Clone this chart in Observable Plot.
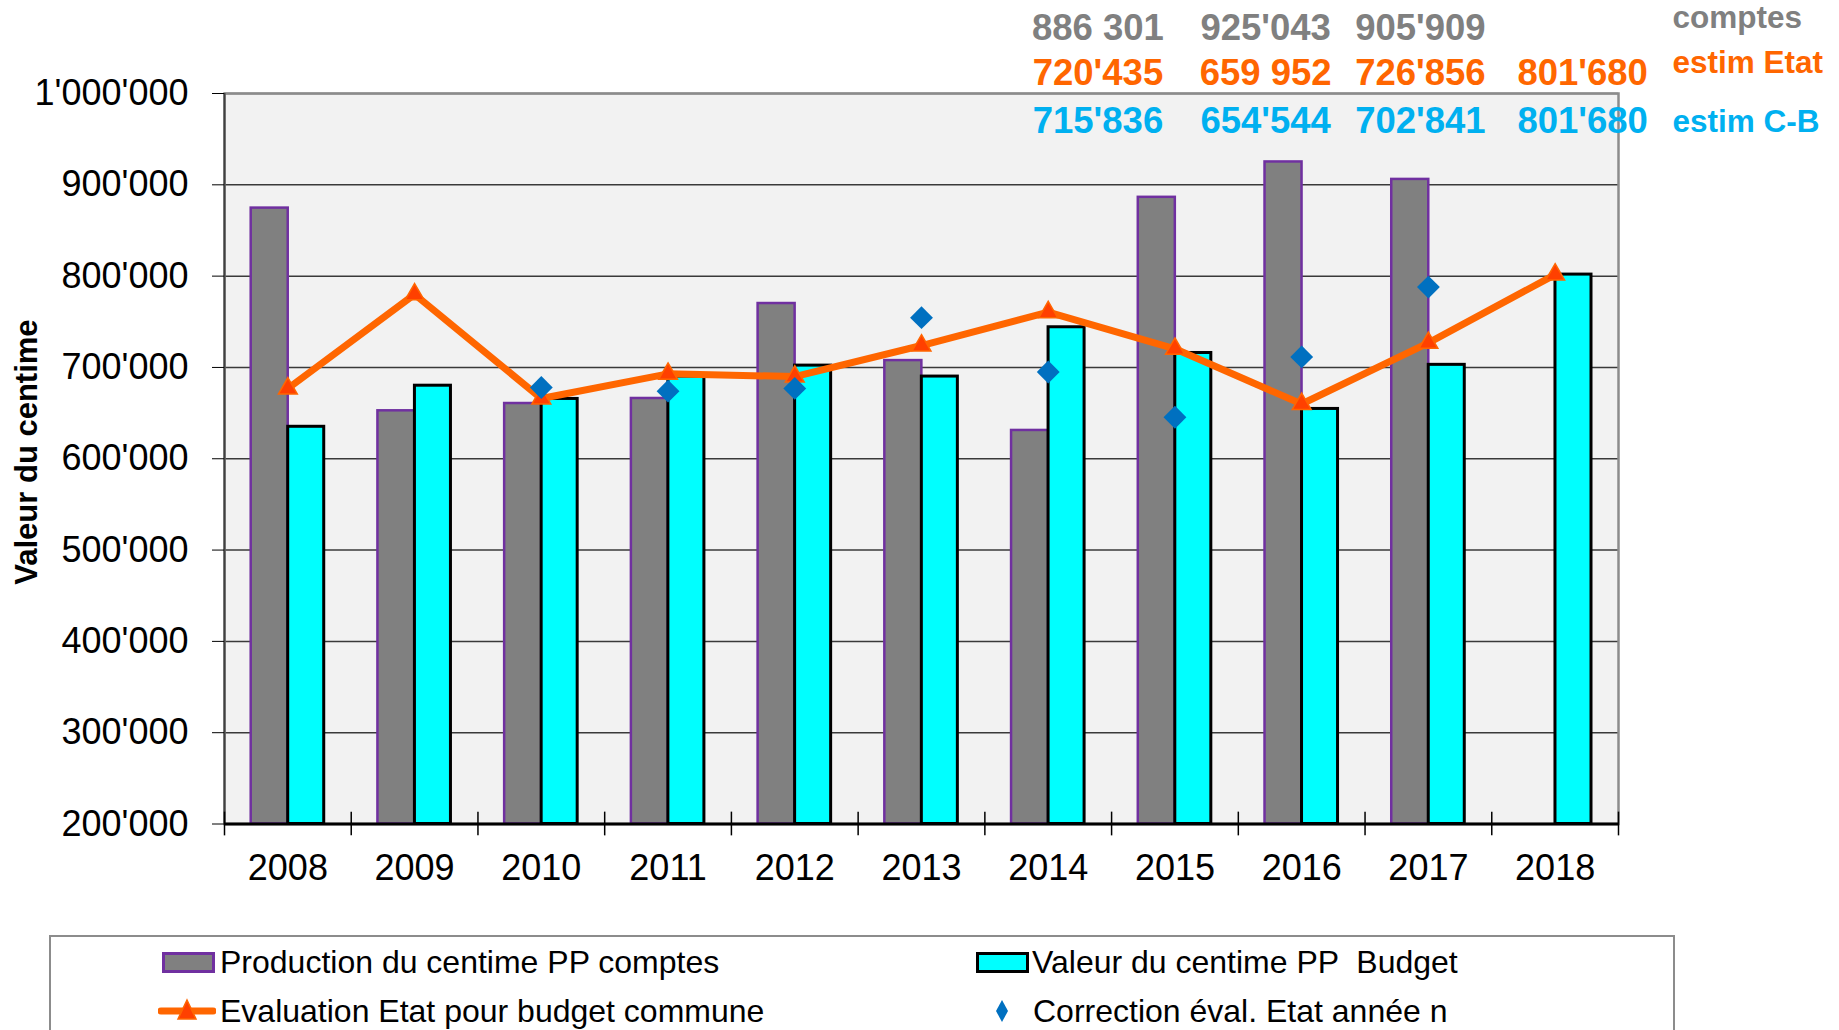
<!DOCTYPE html>
<html>
<head>
<meta charset="utf-8">
<script src="https://cdn.jsdelivr.net/npm/d3@7"></script>
<script src="https://cdn.jsdelivr.net/npm/@observablehq/plot@0.6"></script>
<style>
  html, body { margin: 0; padding: 0; background: #fff; }
  #wrap { position: relative; width: 1839px; height: 1030px; overflow: hidden; font-family: "Liberation Sans", Arial, sans-serif; }
  #chart { position: absolute; left: 0; top: 0; }
  #legend { position: absolute; left: 49px; top: 935px; width: 1626px; height: 120px; box-sizing: border-box; border: 2px solid #8c8c8c; background: #fff; }
  .lg { position: absolute; font-size: 32px; line-height: 32px; color: #000; white-space: pre; }
  .sw { position: absolute; }
</style>
</head>
<body>
<div id="wrap">
  <div id="chart"></div>
  <div id="legend"></div>
</div>
<script>
// ---------- data ----------
const years = ["2008", "2009", "2010", "2011", "2012", "2013", "2014", "2015", "2016", "2017", "2018"];
const comptes = [874500, 652500, 660500, 666000, 770000, 707500, 631000, 886301, 925043, 905909, null];
const budget = [635000, 680000, 665500, 690000, 702000, 690000, 744000, 715836, 654544, 702841, 801680];
const evalEtat = [677000, 780000, 666000, 693000, 690000, 724000, 760500, 720435, 659952, 726856, 801680];
const correction = [null, null, 678000, 674000, 677000, 754500, 695000, 645500, 711500, 788000, null];
const yTicks = [200000, 300000, 400000, 500000, 600000, 700000, 800000, 900000, 1000000];

const annotYears = ["2015", "2016", "2017", "2018"];
const annotComptes = ["886 301", "925'043", "905'909", ""];
const annotEstimEtat = ["720'435", "659 952", "726'856", "801'680"];
const annotEstimCB = ["715'836", "654'544", "702'841", "801'680"];
const rowLabels = ["comptes", "estim Etat", "estim C-B"];

const seriesNames = [
  "Production du centime PP comptes",
  "Valeur du centime PP  Budget",
  "Evaluation Etat pour budget commune",
  "Correction éval. Etat année n"
];
const yTitle = "Valeur du centime";

// ---------- layout ----------
const W = 1839, H = 925, ML = 224, MR = 221, MT = 93, MB = 101.5;
const band = (W - ML - MR) / years.length;
const yMin = yTicks[0];
const colDx = [-77, -36, -8, 27.5];
const rowDy = [-53.5, -8.8, 39];
const rowColors = ["#808080", "#ff6600", "#00b0f0"];
const labelDy = [-66, -20.5, 38.8];

const data = years.map((year, i) => ({
  year, comptes: comptes[i], budget: budget[i], evalEtat: evalEtat[i], correction: correction[i]
}));

const fmt = d => d3.format(",")(d).replace(/,/g, "'");

const annotRows = [annotComptes, annotEstimEtat, annotEstimCB];
const annotMarks = [];
annotRows.forEach((row, j) => {
  row.forEach((label, i) => {
    if (!label) return;
    annotMarks.push(Plot.text([label], {
      x: () => annotYears[i], text: d => d,
      frameAnchor: "top", lineAnchor: "bottom", textAnchor: "middle",
      dx: colDx[i], dy: rowDy[j],
      fill: rowColors[j], fontWeight: "bold", fontSize: 36.5
    }));
  });
});
rowLabels.forEach((label, j) => {
  annotMarks.push(Plot.text([label], {
    text: d => d, frameAnchor: "top-right", lineAnchor: "bottom", textAnchor: "start",
    dx: 54, dy: labelDy[j], fill: rowColors[j], fontWeight: "bold", fontSize: 31.5
  }));
});

const chart = Plot.plot({
  width: W, height: H,
  marginLeft: ML, marginRight: MR, marginTop: MT, marginBottom: MB,
  style: { fontFamily: "'Liberation Sans', Arial, sans-serif", fontSize: "36px", color: "#000", background: "transparent", overflow: "visible" },
  x: { type: "band", domain: years, padding: 0, round: false },
  y: { domain: [yMin, yTicks[yTicks.length - 1]] },
  marks: [
    Plot.frame({ fill: "#f2f2f2" }),
    Plot.gridY(yTicks, { stroke: "#3a3a3a", strokeOpacity: 1, strokeWidth: 1.5 }),
    Plot.frame({ stroke: "#8c8c8c", strokeWidth: 2.5 }),
    Plot.ruleX([years[0]], { dx: -band / 2, stroke: "#404040", strokeWidth: 2 }),
    Plot.barY(data, { x: "year", y1: yMin, y2: "comptes", fill: "#808080", stroke: "#7030a0", strokeWidth: 2.5, insetLeft: 26.7, insetRight: 63 }),
    Plot.barY(data, { x: "year", y1: yMin, y2: "budget", fill: "#00ffff", stroke: "#000", strokeWidth: 3, insetLeft: 63.7, insetRight: 27 }),
    Plot.ruleY([yMin], { stroke: "#000", strokeWidth: 3 }),
    Plot.ruleX(years, { x: d => d, dx: -band / 2, y1: 187000, y2: 213000, stroke: "#000", strokeWidth: 1.5 }),
    Plot.ruleX([years[years.length - 1]], { dx: band / 2, y1: 187000, y2: 213000, stroke: "#000", strokeWidth: 1.5 }),
    Plot.lineY(data, { x: "year", y: "evalEtat", stroke: "#ff6600", strokeWidth: 7, strokeLinejoin: "miter" }),
    Plot.dot(data, { x: "year", y: "evalEtat", symbol: "triangle", r: 7, fill: "#ff4000", stroke: "#ff6600", strokeWidth: 1.5 }),
    Plot.dot(data, { x: "year", y: "correction", symbol: "diamond2", r: 10.3, fill: "#0070c0", stroke: "none" }),
    Plot.axisY(yTicks, { tickSize: 12, tickPadding: 24, tickFormat: fmt, label: null, stroke: "#000" }),
    Plot.axisX({ tickSize: 0, tickPadding: 30, label: null }),
    Plot.text([yTitle], { text: d => d, frameAnchor: "left", rotate: -90, dx: -197.6, dy: -6.7, fontWeight: "bold", fontSize: 31, textAnchor: "middle" }),
    ...annotMarks
  ]
});
document.getElementById("chart").appendChild(chart);

// ---------- legend ----------
const legend = document.getElementById("legend");
const L = 49, T = 935; // legend box origin (page coords)
function add(html) { legend.insertAdjacentHTML("beforeend", html); }
// swatches
add(`<svg class="sw" style="left:${160 - L}px;top:${950 - T}px" width="53" height="21">
  <rect x="1.5" y="1.5" width="50" height="18" fill="#808080" stroke="#7030a0" stroke-width="3"/></svg>`);
add(`<svg class="sw" style="left:${974 - L}px;top:${950 - T}px" width="53" height="21">
  <rect x="1.5" y="1.5" width="50" height="18" fill="#00ffff" stroke="#000" stroke-width="3"/></svg>`);
add(`<svg class="sw" style="left:${156 - L}px;top:${996 - T}px" width="58" height="26">
  <line x1="3" y1="13" x2="55" y2="13" stroke="#ff6600" stroke-width="7" stroke-linecap="round"/>
  <path d="M29,2 L38,21 L20,21 Z" fill="#ff4000" stroke="#ff6600" stroke-width="1.5"/></svg>`);
add(`<svg class="sw" style="left:${992 - L}px;top:${997 - T}px" width="16" height="24">
  <path d="M8,1 L14,12 L8,23 L2,12 Z" fill="#0070c0"/></svg>`);
// labels (top = baseline - ~27.1 for 32px)
add(`<div class="lg" style="left:${218 - L}px;top:${943.5 - T}px">${seriesNames[0]}</div>`);
add(`<div class="lg" style="left:${1030 - L}px;top:${943.5 - T}px">${seriesNames[1]}</div>`);
add(`<div class="lg" style="left:${218 - L}px;top:${992.5 - T}px">${seriesNames[2]}</div>`);
add(`<div class="lg" style="left:${1031 - L}px;top:${992.5 - T}px">${seriesNames[3]}</div>`);
</script>
</body>
</html>
